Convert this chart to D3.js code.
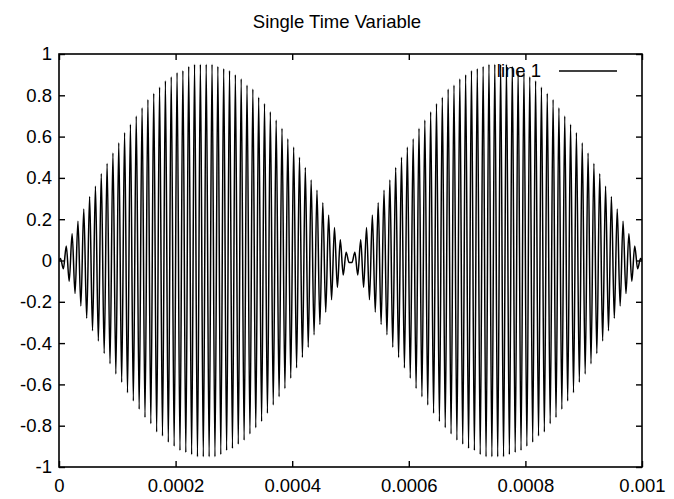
<!DOCTYPE html>
<html>
<head>
<meta charset="utf-8">
<script src="https://cdn.jsdelivr.net/npm/d3@7"></script>
<style>
  html, body { margin: 0; padding: 0; background: #fff; }
  svg { display: block; }
  text { font-family: "Liberation Sans", Arial, Helvetica, sans-serif; fill: #000; }
</style>
</head>
<body>
<svg id="chart" width="674" height="499"></svg>
<script>
// ---------------- data ----------------
const title = "Single Time Variable";
const legendLabel = "line 1";
const xTicks = [0, 0.0002, 0.0004, 0.0006, 0.0008, 0.001];
const xTickLabels = ["0", "0.0002", "0.0004", "0.0006", "0.0008", "0.001"];
const yTicks = [-1, -0.8, -0.6, -0.4, -0.2, 0, 0.2, 0.4, 0.6, 0.8, 1];
const yTickLabels = ["-1", "-0.8", "-0.6", "-0.4", "-0.2", "0", "0.2", "0.4", "0.6", "0.8", "1"];

// signal starts and ends at zero
const startTime = 0, startValue = 0;
const endTime = 0.001, endValue = 0;
// successive peaks/troughs of the carrier, one every half period
const firstPeakTime = 0.0000025;
const peakSpacing = 0.000005;
const lobe1Peaks = [
  0.01,-0.04,0.07,-0.10,0.13,-0.16,0.19,-0.22,0.25,-0.28,
  0.31,-0.34,0.36,-0.39,0.42,-0.45,0.47,-0.50,0.52,-0.55,
  0.57,-0.59,0.62,-0.64,0.66,-0.68,0.70,-0.72,0.74,-0.76,
  0.78,-0.79,0.81,-0.83,0.84,-0.85,0.87,-0.88,0.89,-0.90,
  0.91,-0.92,0.92,-0.93,0.94,-0.94,0.95,-0.95,0.95,-0.95,
  0.95,-0.95,0.95,-0.95,0.94,-0.94,0.93,-0.92,0.92,-0.91,
  0.90,-0.89,0.88,-0.87,0.85,-0.84,0.83,-0.81,0.79,-0.78,
  0.76,-0.74,0.72,-0.70,0.68,-0.66,0.64,-0.62,0.59,-0.57,
  0.55,-0.52,0.50,-0.47,0.45,-0.42,0.39,-0.36,0.34,-0.31,
  0.28,-0.25,0.22,-0.19,0.16,-0.13,0.10,-0.07,0.04,-0.01
];
const lobe2Peaks = [
  -0.01,0.04,-0.07,0.10,-0.13,0.16,-0.19,0.22,-0.25,0.28,
  -0.31,0.34,-0.36,0.39,-0.42,0.45,-0.47,0.50,-0.52,0.55,
  -0.57,0.59,-0.62,0.64,-0.66,0.68,-0.70,0.72,-0.74,0.76,
  -0.78,0.79,-0.81,0.83,-0.84,0.85,-0.87,0.88,-0.89,0.90,
  -0.91,0.92,-0.92,0.93,-0.94,0.94,-0.95,0.95,-0.95,0.95,
  -0.95,0.95,-0.95,0.95,-0.94,0.94,-0.93,0.92,-0.92,0.91,
  -0.90,0.89,-0.88,0.87,-0.85,0.84,-0.83,0.81,-0.79,0.78,
  -0.76,0.74,-0.72,0.70,-0.68,0.66,-0.64,0.62,-0.59,0.57,
  -0.55,0.52,-0.50,0.47,-0.45,0.42,-0.39,0.36,-0.34,0.31,
  -0.28,0.25,-0.22,0.19,-0.16,0.13,-0.10,0.07,-0.04,0.01
];

// ---------------- layout ----------------
const svg = d3.select("#chart");
const plot = { left: 59, right: 642, top: 54, bottom: 467 };
const fontSize = 18.5;

const x = d3.scaleLinear().domain([0, 0.001]).range([plot.left, plot.right]);
const y = d3.scaleLinear().domain([-1, 1]).range([plot.bottom, plot.top]);

const peaks = lobe1Peaks.concat(lobe2Peaks);
const series = [{ t: startTime, v: startValue }]
  .concat(peaks.map((v, i) => ({ t: firstPeakTime + i * peakSpacing, v })))
  .concat([{ t: endTime, v: endValue }]);

// title
svg.append("text")
  .attr("x", 337).attr("y", 28)
  .attr("text-anchor", "middle")
  .style("font-size", fontSize + "px")
  .text(title);

// axes (ticks inward on all sides)
const tickLen = 6;
const gB = svg.append("g").attr("transform", `translate(0,${plot.bottom})`)
  .call(d3.axisBottom(x).tickValues(xTicks).tickFormat((d, i) => xTickLabels[i])
    .tickSizeInner(-tickLen).tickSizeOuter(0).tickPadding(12));
const gT = svg.append("g").attr("transform", `translate(0,${plot.top})`)
  .call(d3.axisTop(x).tickValues(xTicks).tickFormat("")
    .tickSizeInner(-tickLen).tickSizeOuter(0));
const gL = svg.append("g").attr("transform", `translate(${plot.left},0)`)
  .call(d3.axisLeft(y).tickValues(yTicks).tickFormat((d, i) => yTickLabels[i])
    .tickSizeInner(-tickLen).tickSizeOuter(0).tickPadding(7));
const gR = svg.append("g").attr("transform", `translate(${plot.right},0)`)
  .call(d3.axisRight(y).tickValues(yTicks).tickFormat("")
    .tickSizeInner(-tickLen).tickSizeOuter(0));

[gB, gT, gL, gR].forEach(g => {
  g.select(".domain").remove();
  g.selectAll("line").attr("stroke", "#000").attr("stroke-width", 1.4);
  g.selectAll("text").style("font-size", fontSize + "px")
    .style("font-family", '"Liberation Sans", Arial, Helvetica, sans-serif')
    .attr("fill", "#000");
});

// legend
svg.append("text")
  .attr("x", 541).attr("y", 77)
  .attr("text-anchor", "end")
  .style("font-size", fontSize + "px")
  .text(legendLabel);
svg.append("line")
  .attr("x1", 559).attr("x2", 617)
  .attr("y1", 71).attr("y2", 71)
  .attr("stroke", "#000").attr("stroke-width", 1.3);

// clip
svg.append("clipPath").attr("id", "clip")
  .append("rect")
  .attr("x", plot.left).attr("y", plot.top)
  .attr("width", plot.right - plot.left).attr("height", plot.bottom - plot.top);

// data line
const line = d3.line()
  .x(d => x(d.t))
  .y(d => y(d.v))
  .curve(d3.curveMonotoneX);

svg.append("path")
  .datum(series)
  .attr("clip-path", "url(#clip)")
  .attr("fill", "none")
  .attr("stroke", "#000")
  .attr("stroke-width", 1.5)
  .attr("d", line);

// border
svg.append("rect")
  .attr("x", plot.left).attr("y", plot.top)
  .attr("width", plot.right - plot.left).attr("height", plot.bottom - plot.top)
  .attr("fill", "none").attr("stroke", "#000").attr("stroke-width", 1.6);
</script>
</body>
</html>
